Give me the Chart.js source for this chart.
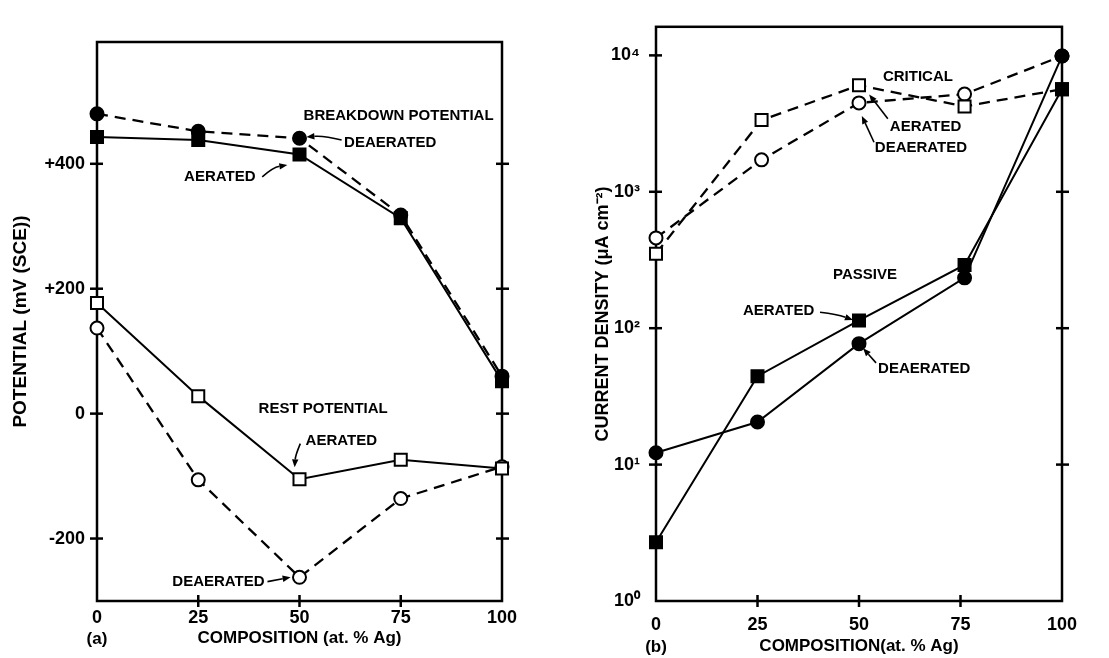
<!DOCTYPE html>
<html><head><meta charset="utf-8">
<script src="https://cdn.jsdelivr.net/npm/chart.js@4"></script>
<style>
html,body{margin:0;padding:0;background:#fff;width:1109px;height:658px;overflow:hidden}
canvas{position:absolute;top:0}
#ca{left:0}#cb{left:555px}
</style></head><body>
<canvas id="ca" width="555" height="658"></canvas>
<canvas id="cb" width="554" height="658"></canvas>
<script>
// ---------- panel (a) data ----------
const compositionA = [0, 25, 50, 75, 100];
const breakdownAerated = [443, 438, 415, 313, 52];
const breakdownDeaerated = [480, 452, 441, 318, 60];
const restAerated = [177, 28, -105, -74, -88];
const restDeaerated = [137, -106, -262, -136, -85];
const potentialTicks = [-200, 0, 200, 400];
const potentialTickLabels = ['-200', '0', '+200', '+400'];

// ---------- panel (b) data ----------
const criticalComposition = [0, 26, 50, 76, 100];
const passiveComposition = [0, 25, 50, 76, 100];
const criticalAerated = [352, 3355, 6030, 4225, 5650];
const criticalDeaerated = [459, 1715, 4485, 5200, 9890];
const passiveAerated = [2.7, 44.5, 114, 291, 5650];
const passiveDeaerated = [12.2, 20.5, 77, 234, 9890];
const currentTicks = [1, 10, 100, 1000, 10000];
const currentTickLabels = ['10⁰', '10¹', '10²', '10³', '10⁴'];

// ---------- shared ----------
const compositionTicks = [0, 25, 50, 75, 100];
const compositionTickLabels = ['0', '25', '50', '75', '100'];

// annotations (data coordinates)
const notesA = [
  { text: 'BREAKDOWN POTENTIAL', x: 51, y: 477 },
  { text: 'DEAERATED', x: 61, y: 434 },
  { text: 'AERATED', x: 21.5, y: 379 },
  { text: 'REST POTENTIAL', x: 39.9, y: 8 },
  { text: 'AERATED', x: 51.5, y: -43 },
  { text: 'DEAERATED', x: 18.6, y: -269 }
];
const arrowsA = [
  { from: [60.4, 438], to: [51.7, 443], bend: 3 },
  { from: [40.8, 379], to: [47.0, 398], bend: -4 },
  { from: [50.2, -48], to: [48.8, -86], bend: 2 },
  { from: [42.1, -269], to: [47.8, -262], bend: 0 }
];
const notesB = [
  { text: 'CRITICAL', x: 55.9, y: 6960 },
  { text: 'AERATED', x: 57.6, y: 3005 },
  { text: 'DEAERATED', x: 53.9, y: 2090 },
  { text: 'PASSIVE', x: 43.6, y: 245 },
  { text: 'AERATED', x: 21.4, y: 133 },
  { text: 'DEAERATED', x: 54.7, y: 50.5 }
];
const arrowsB = [
  { from: [57.1, 3428], to: [52.5, 5176], bend: 0 },
  { from: [53.7, 2307], to: [50.7, 3599], bend: 0 },
  { from: [40.4, 131], to: [48.5, 115], bend: -2 },
  { from: [54.2, 55.7], to: [51.0, 71.3], bend: 0 }
];

Chart.defaults.color = '#000';
Chart.defaults.font.family = '"Liberation Sans", Arial, sans-serif';
Chart.defaults.font.weight = 'bold';

const NOTE_FONT = 'bold 15px "Liberation Sans", Arial, sans-serif';

function seg(ctx, x1, y1, x2, y2) {
  ctx.beginPath(); ctx.moveTo(x1, y1); ctx.lineTo(x2, y2); ctx.stroke();
}

const framePlugin = {
  id: 'frame',
  beforeDatasetsDraw(chart) {
    const { ctx, chartArea: a, scales: { x, y } } = chart;
    ctx.save();
    ctx.strokeStyle = '#000';
    ctx.lineWidth = 2.5;
    ctx.lineCap = 'butt';
    ctx.strokeRect(a.left, a.top, a.right - a.left, a.bottom - a.top);
    y.ticks.forEach(t => {
      const py = y.getPixelForValue(t.value);
      if (py < a.top + 3 || py > a.bottom - 3) return;
      seg(ctx, a.left - 7, py, a.left + 6, py);
      seg(ctx, a.right - 6, py, a.right + 7, py);
    });
    x.ticks.forEach(t => {
      const px = x.getPixelForValue(t.value);
      if (px < a.left + 3 || px > a.right - 3) return;
      seg(ctx, px, a.bottom - 6, px, a.bottom + 6);
    });
    ctx.restore();
  },
  afterDatasetsDraw(chart, args, opts) {
    const { ctx, chartArea: a, scales: { x, y } } = chart;
    ctx.save();
    ctx.fillStyle = '#000';
    ctx.strokeStyle = '#000';
    ctx.font = NOTE_FONT;
    ctx.textAlign = 'left';
    ctx.textBaseline = 'middle';
    (opts.notes || []).forEach(n => {
      ctx.fillText(n.text, x.getPixelForValue(n.x), y.getPixelForValue(n.y));
    });
    ctx.lineWidth = 1.6;
    (opts.arrows || []).forEach(ar => {
      const x1 = x.getPixelForValue(ar.from[0]), y1 = y.getPixelForValue(ar.from[1]);
      const x2 = x.getPixelForValue(ar.to[0]), y2 = y.getPixelForValue(ar.to[1]);
      const mx = (x1 + x2) / 2, my = (y1 + y2) / 2;
      const dx = x2 - x1, dy = y2 - y1, len = Math.hypot(dx, dy) || 1;
      const cx = mx - dy / len * ar.bend, cy = my + dx / len * ar.bend;
      const ang = Math.atan2(y2 - cy, x2 - cx);
      const hl = 8, hw = 3.2;
      const bx = x2 - Math.cos(ang) * hl, by = y2 - Math.sin(ang) * hl;
      ctx.beginPath();
      ctx.moveTo(x1, y1);
      ctx.quadraticCurveTo(cx, cy, bx, by);
      ctx.stroke();
      ctx.beginPath();
      ctx.moveTo(x2, y2);
      ctx.lineTo(bx - Math.sin(ang) * hw, by + Math.cos(ang) * hw);
      ctx.lineTo(bx + Math.sin(ang) * hw, by - Math.cos(ang) * hw);
      ctx.closePath();
      ctx.fill();
    });
    if (opts.panel) {
      ctx.font = 'bold 17px "Liberation Sans", Arial, sans-serif';
      ctx.textAlign = 'center';
      ctx.fillText(opts.panel, a.left, opts.panelY);
    }
    ctx.restore();
  }
};

function series(label, xs, ys, style, filled, dashed) {
  return {
    label,
    data: xs.map((v, i) => ({ x: v, y: ys[i] })),
    borderColor: '#000',
    borderWidth: dashed ? 2.3 : 2,
    borderDash: dashed ? [11, 7] : [],
    pointStyle: style,
    pointRadius: style === 'rect' ? 8.5 : 6.5,
    pointHoverRadius: style === 'rect' ? 8.5 : 6.5,
    pointBorderColor: '#000',
    pointBorderWidth: 2,
    pointBackgroundColor: filled ? '#000' : '#fff',
    fill: false,
    tension: 0,
    clip: false
  };
}

function xScale(tickPad, titlePadBottom, titleText) {
  return {
    type: 'linear', min: 0, max: 100,
    afterBuildTicks: s => { s.ticks = compositionTicks.map(v => ({ value: v })); },
    afterFit: s => { s.height = 57; },
    grid: { display: false, drawTicks: false },
    border: { display: false },
    ticks: {
      padding: tickPad, maxRotation: 0, autoSkip: false,
      font: { size: 18, weight: 'bold' },
      callback: (v, i) => compositionTickLabels[i]
    },
    title: {
      display: true, text: titleText,
      font: { size: 17, weight: 'bold' },
      padding: { top: 0, bottom: titlePadBottom }
    }
  };
}

// ---------- chart (a) ----------
new Chart(document.getElementById('ca'), {
  type: 'line',
  data: {
    datasets: [
      series('Breakdown, aerated', compositionA, breakdownAerated, 'rect', true, false),
      series('Breakdown, deaerated', compositionA, breakdownDeaerated, 'circle', true, true),
      series('Rest, aerated', compositionA, restAerated, 'rect', false, false),
      series('Rest, deaerated', compositionA, restDeaerated, 'circle', false, true)
    ]
  },
  options: {
    responsive: false, animation: false,
    layout: { padding: { left: 0, right: 53, top: 42, bottom: 0 } },
    plugins: {
      legend: { display: false }, tooltip: { enabled: false },
      frame: { notes: notesA, arrows: arrowsA, panel: '(a)', panelY: 639 }
    },
    scales: {
      x: xScale(6, 9, 'COMPOSITION (at. % Ag)'),
      y: {
        type: 'linear', min: -300, max: 595,
        afterBuildTicks: s => { s.ticks = potentialTicks.map(v => ({ value: v })); },
        afterFit: s => { s.width = 97; },
        grid: { display: false, drawTicks: false },
        border: { display: false },
        ticks: {
          padding: 12, font: { size: 18, weight: 'bold' },
          callback: (v, i) => potentialTickLabels[i]
        },
        title: {
          display: true, text: 'POTENTIAL (mV (SCE))',
          font: { size: 19, weight: 'bold' },
          padding: { top: 9, bottom: 0 }
        }
      }
    }
  },
  plugins: [framePlugin]
});

// ---------- chart (b) ----------
new Chart(document.getElementById('cb'), {
  type: 'line',
  data: {
    datasets: [
      series('Passive, deaerated', passiveComposition, passiveDeaerated, 'circle', true, false),
      series('Passive, aerated', passiveComposition, passiveAerated, 'rect', true, false),
      series('Critical, aerated', criticalComposition, criticalAerated, 'rect', false, true),
      series('Critical, deaerated', criticalComposition, criticalDeaerated, 'circle', false, true)
    ]
  },
  options: {
    responsive: false, animation: false,
    layout: { padding: { left: 0, right: 47, top: 13, bottom: 0 } },
    plugins: {
      legend: { display: false }, tooltip: { enabled: false },
      frame: { notes: notesB, arrows: arrowsB, panel: '(b)', panelY: 647 }
    },
    scales: {
      x: xScale(13, 1, 'COMPOSITION(at. % Ag)'),
      y: {
        type: 'logarithmic', min: 1, max: 16200,
        afterBuildTicks: s => { s.ticks = currentTicks.map(v => ({ value: v })); },
        afterFit: s => { s.width = 101; },
        grid: { display: false, drawTicks: false },
        border: { display: false },
        ticks: {
          padding: 16, font: { size: 18, weight: 'bold' },
          callback: (v, i) => currentTickLabels[i]
        },
        title: {
          display: true, text: 'CURRENT DENSITY (μA cm⁻²)',
          font: { size: 18, weight: 'bold' },
          padding: { top: 37, bottom: 0 }
        }
      }
    }
  },
  plugins: [framePlugin]
});
</script>
</body></html>
